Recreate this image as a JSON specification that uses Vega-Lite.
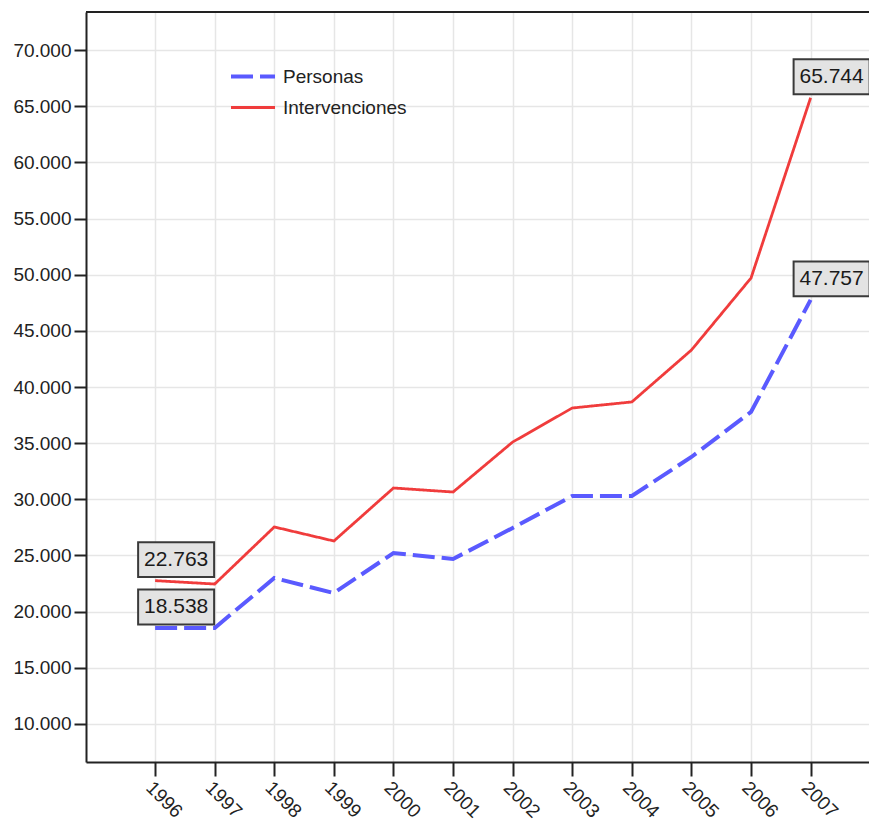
{
  "$schema": "https://vega.github.io/schema/vega-lite/v6.json",
  "autosize": "none",
  "width": 783,
  "height": 750,
  "padding": {"left": 86, "top": 12, "right": 0, "bottom": 58},
  "background": "white",
  "config": {
    "locale": {"number": {"decimal": ",", "thousands": ".", "grouping": [3], "currency": ["", " €"]}},
    "view": {"stroke": null},
    "font": "Liberation Sans",
    "axis": {
      "domainColor": "#222222", "domainWidth": 2,
      "tickColor": "#222222", "tickWidth": 2,
      "gridColor": "#e6e6e6", "gridWidth": 1.5,
      "labelFont": "Liberation Sans", "labelFontSize": 19, "labelColor": "#222222",
      "title": null
    }
  },
  "data": {
    "values": [
      {"year": 1996, "serie": "Personas", "v": 18538},
      {"year": 1997, "serie": "Personas", "v": 18550},
      {"year": 1998, "serie": "Personas", "v": 23000},
      {"year": 1999, "serie": "Personas", "v": 21660},
      {"year": 2000, "serie": "Personas", "v": 25220},
      {"year": 2001, "serie": "Personas", "v": 24690},
      {"year": 2002, "serie": "Personas", "v": 27450},
      {"year": 2003, "serie": "Personas", "v": 30300},
      {"year": 2004, "serie": "Personas", "v": 30300},
      {"year": 2005, "serie": "Personas", "v": 33770},
      {"year": 2006, "serie": "Personas", "v": 37780},
      {"year": 2007, "serie": "Personas", "v": 47757},
      {"year": 1996, "serie": "Intervenciones", "v": 22763},
      {"year": 1997, "serie": "Intervenciones", "v": 22460},
      {"year": 1998, "serie": "Intervenciones", "v": 27540},
      {"year": 1999, "serie": "Intervenciones", "v": 26290},
      {"year": 2000, "serie": "Intervenciones", "v": 31010},
      {"year": 2001, "serie": "Intervenciones", "v": 30650},
      {"year": 2002, "serie": "Intervenciones", "v": 35100},
      {"year": 2003, "serie": "Intervenciones", "v": 38130},
      {"year": 2004, "serie": "Intervenciones", "v": 38670},
      {"year": 2005, "serie": "Intervenciones", "v": 43290},
      {"year": 2006, "serie": "Intervenciones", "v": 49700},
      {"year": 2007, "serie": "Intervenciones", "v": 65744}
    ]
  },
  "encoding": {
    "x": {
      "field": "year", "type": "quantitative",
      "scale": {"domain": [1994.84, 2007.98], "nice": false, "zero": false},
      "axis": {"values": [1996,1997,1998,1999,2000,2001,2002,2003,2004,2005,2006,2007], "format": "d", "labelAngle": 45, "tickSize": 14, "labelPadding": 2, "labelFlush": false, "labelOverlap": false}
    },
    "y": {
      "field": "v", "type": "quantitative",
      "scale": {"domain": [6617, 73383], "nice": false, "zero": false},
      "axis": {"values": [10000,15000,20000,25000,30000,35000,40000,45000,50000,55000,60000,65000,70000], "format": ",d", "tickSize": 12, "labelPadding": 3}
    }
  },
  "layer": [
    {
      "mark": {"type": "rule", "color": "#222222", "strokeWidth": 2},
      "encoding": {"y": {"datum": 73383}, "x": null}
    },
    {
      "mark": {"type": "line", "strokeCap": "butt"},
      "encoding": {
        "color": {"field": "serie", "type": "nominal",
          "scale": {"domain": ["Personas", "Intervenciones"], "range": ["#5a5aff", "#f03c3c"]},
          "legend": {"orient": "none", "legendX": 143, "legendY": 50, "title": null, "labelFontSize": 19, "labelColor": "#222222", "symbolSize": 1936, "symbolType": "stroke", "clipHeight": 29, "rowPadding": 2, "labelOffset": 6, "padding": 0}},
        "strokeDash": {"field": "serie", "type": "nominal",
          "scale": {"domain": ["Personas", "Intervenciones"], "range": [[22, 7], [1, 0]]}},
        "strokeWidth": {"field": "serie", "type": "nominal",
          "scale": {"domain": ["Personas", "Intervenciones"], "range": [4, 2.8]}}
      }
    },
    {
      "transform": [{"filter": "datum.year == 1996 || datum.year == 2007"}],
      "mark": {"type": "point", "shape": "M-1,-0.46L1,-0.46L1,0.46L-1,0.46Z", "size": 5776, "filled": false, "fill": "#e3e3e3", "stroke": "#3a3a3a", "strokeWidth": 2, "opacity": 1, "xOffset": 21, "yOffset": -21}
    },
    {
      "transform": [{"filter": "datum.year == 1996 || datum.year == 2007"}],
      "mark": {"type": "text", "dx": 21, "dy": -21, "fontSize": 21, "align": "center", "baseline": "middle", "color": "#1a1a1a", "font": "Liberation Sans"},
      "encoding": {"text": {"field": "v", "type": "quantitative", "format": ",d"}}
    }
  ]
}
